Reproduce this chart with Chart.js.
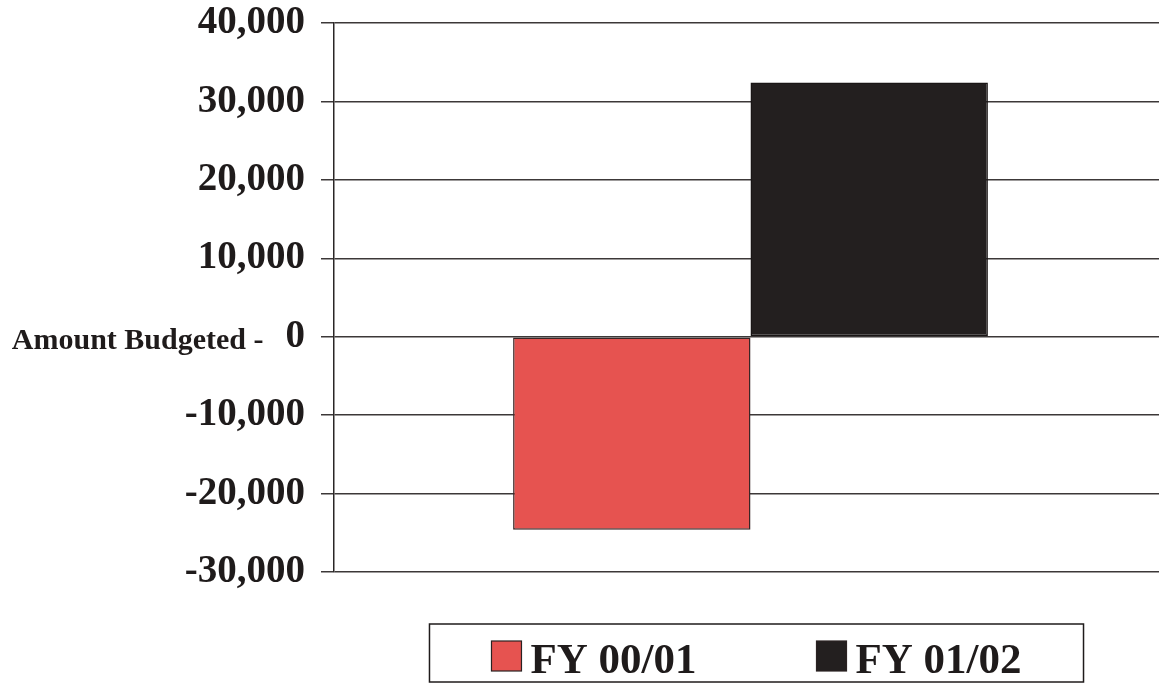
<!DOCTYPE html>
<html>
<head>
<meta charset="utf-8">
<script src="https://cdn.jsdelivr.net/npm/chart.js@4/dist/chart.umd.min.js"></script>
<style>
  html, body { margin: 0; padding: 0; overflow: hidden; background: #fff; width: 1159px; height: 683px; }
  canvas { display: block; }
</style>
</head>
<body>
<canvas id="budget" width="1167" height="683"></canvas>
<script>
// Budget change by fiscal year
const categories = ['Amount Budgeted'];
const seriesLabels = ['FY 00/01', 'FY 01/02'];
const fy0001Values = [-24600];
const fy0102Values = [32400];
const yTickValues = [-30000, -20000, -10000, 0, 10000, 20000, 30000, 40000];
const axisCaption = 'Amount Budgeted -';

const SERIF = "'Liberation Serif', 'Times New Roman', serif";
const INK = '#1f1b1b';
const RED = '#e65350';
const BLACK = '#231f1f';

// caption in front of the zero tick
const captionPlugin = {
  id: 'zeroCaption',
  afterDraw(chart) {
    const y = chart.scales.y;
    const ctx = chart.ctx;
    const py = y.getPixelForValue(0);
    ctx.save();
    ctx.font = 'bold 39px ' + SERIF;
    const zeroW = ctx.measureText('0').width;
    const labelRight = y.right - y.options.grid.tickLength - y.options.ticks.padding;
    ctx.font = 'bold 30px ' + SERIF;
    ctx.fillStyle = INK;
    ctx.textAlign = 'right';
    ctx.textBaseline = 'alphabetic';
    ctx.fillText(axisCaption, labelRight - zeroW - 22, py + 12);
    ctx.restore();
  }
};

// boxed legend below the plot
const boxedLegend = {
  id: 'boxedLegend',
  afterDraw(chart) {
    const ctx = chart.ctx;
    const area = chart.chartArea;
    const sq = 30, sqGap = 9, itemGap = 120, pad = 62;
    ctx.save();
    ctx.font = 'bold 43px ' + SERIF;
    const items = chart.data.datasets.map(ds => ({
      text: ds.label, color: ds.backgroundColor, w: ctx.measureText(ds.label).width
    }));
    let content = 0;
    items.forEach((it, i) => { content += sq + sqGap + it.w + (i ? itemGap : 0); });
    const boxW = content + pad * 2;
    const cx = (area.left + area.right) / 2 + 6;
    const boxL = cx - boxW / 2;
    const boxT = 624, boxB = 682;
    ctx.strokeStyle = INK;
    ctx.lineWidth = 1.5;
    ctx.strokeRect(boxL, boxT, boxW, boxB - boxT);
    let x = boxL + pad;
    items.forEach((it, i) => {
      if (i) x += itemGap;
      ctx.fillStyle = it.color;
      ctx.fillRect(x, 641, sq, sq);
      ctx.strokeStyle = '#2a2222';
      ctx.lineWidth = 1.2;
      ctx.strokeRect(x, 641, sq, sq);
      x += sq + sqGap;
      ctx.fillStyle = INK;
      ctx.textAlign = 'left';
      ctx.textBaseline = 'alphabetic';
      ctx.fillText(it.text, x, 673);
      x += it.w;
    });
    ctx.restore();
  }
};

new Chart(document.getElementById('budget'), {
  type: 'bar',
  data: {
    labels: categories,
    datasets: [
      { label: seriesLabels[0], data: fy0001Values, backgroundColor: RED,
        borderColor: '#3a2626', borderWidth: 1.5, borderSkipped: false },
      { label: seriesLabels[1], data: fy0102Values, backgroundColor: BLACK,
        borderColor: '#1a1616', borderWidth: 1.5, borderSkipped: false }
    ]
  },
  options: {
    responsive: false,
    animation: false,
    devicePixelRatio: 1,
    layout: { padding: { top: 23, right: 0, bottom: 111, left: 0 } },
    datasets: { bar: { categoryPercentage: 0.57, barPercentage: 1.0 } },
    plugins: { legend: { display: false }, tooltip: { enabled: false } },
    scales: {
      x: { display: false },
      y: {
        min: -30000,
        max: 40000,
        afterBuildTicks(scale) { scale.ticks = yTickValues.map(v => ({ value: v })); },
        afterFit(scale) {
          scale.width = 334;
          scale.paddingTop = 0;
          scale.paddingBottom = 0;
        },
        ticks: {
          padding: 16,
          color: INK,
          font: { family: SERIF, size: 39, weight: 'bold' },
          callback: v => Number(v).toLocaleString('en-US')
        },
        grid: { color: '#3c3838', lineWidth: 1.5, drawTicks: true, tickLength: 13, tickColor: '#3c3838' },
        border: { display: true, color: '#2a2626', width: 1.5 }
      }
    }
  },
  plugins: [captionPlugin, boxedLegend]
});
</script>
</body>
</html>
